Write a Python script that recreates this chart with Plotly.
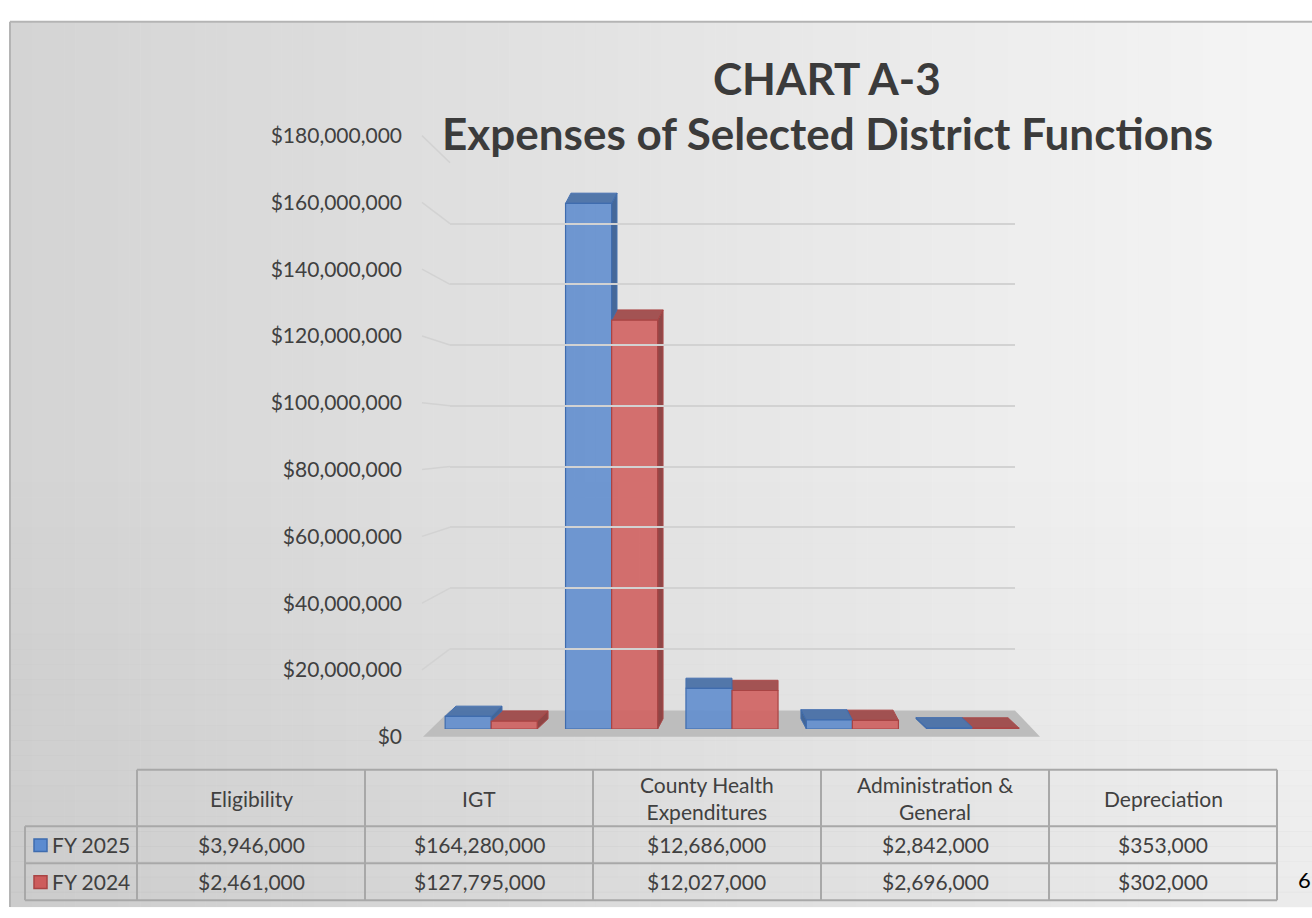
import plotly.graph_objects as go

# ---------------- data ----------------
categories = ["Eligibility", "IGT", "County Health Expenditures",
              "Administration & General", "Depreciation"]
table_headers = ["Eligibility", "IGT", "County Health<br>Expenditures",
                 "Administration &<br>General", "Depreciation"]
series_names = ["FY 2025", "FY 2024"]
fy2025 = [3946000, 164280000, 12686000, 2842000, 353000]
fy2024 = [2461000, 127795000, 12027000, 2696000, 302000]
tick_values = [0, 20000000, 40000000, 60000000, 80000000, 100000000,
               120000000, 140000000, 160000000, 180000000]
tick_labels = ["$" + f"{v:,}" for v in tick_values]
title_lines = ["CHART A-3", "Expenses of Selected District Functions"]
page_number = "6"

# ---------------- style ----------------
W, H = 1312, 918
FONT = "Lato"
TXT = "#404040"
front_cols = ["rgba(98,142,206,0.9)", "rgba(208,98,96,0.9)"]
edge_cols = ["#3f6cae", "#a94444"]
top_cols = ["#4b72a8", "#a04c4c"]
side_cols = ["#3d6296", "#8c3f3f"]
key_fill = ["#5b8bd0", "#cd5c5c"]

def px(x):
    return x / W

def py(y):
    return 1 - y / H

Y_MAX = 180000000
BAR_PX_PER_UNIT = (735 - 143) / Y_MAX
CAT_PX = 120.4
BARGAP = 0.235
DEPTH_DY = 10.5 / BAR_PX_PER_UNIT   # depth offset in data units
VP_CAT = 2.0                        # perspective centre (category index)
SKEW_PX = 5.4                       # horizontal depth shift per category

fig = go.Figure()

# bars (front faces)
for s, vals in enumerate([fy2025, fy2024]):
    fig.add_trace(go.Bar(
        x=list(range(len(categories))), y=vals, name=series_names[s],
        marker=dict(color=front_cols[s], line=dict(color=edge_cols[s], width=1.2)),
        xaxis="x", yaxis="y", showlegend=False,
        hovertext=categories, hoverinfo="text+y",
    ))

# dummy traces to create the label axis and the back-wall grid subplot
fig.add_trace(go.Scatter(x=[None], y=[None], xaxis="x", yaxis="y2",
                         showlegend=False, hoverinfo="skip"))
fig.add_trace(go.Scatter(x=[None], y=[None], xaxis="x3", yaxis="y3",
                         showlegend=False, hoverinfo="skip"))

shapes = []

# background gradient (paper)
n = 120
x_start, x_end = 10, W
for k in range(n):
    t = k / (n - 1)
    c = int(round(0xd4 + (0xf5 - 0xd4) * t))
    x0 = x_start + (x_end - x_start) * k / n
    x1 = x_start + (x_end - x_start) * (k + 1) / n + 0.6
    shapes.append(dict(type="rect", xref="paper", yref="paper",
                       x0=px(x0), x1=px(x1), y0=py(918), y1=py(8),
                       fillcolor=f"rgb({c},{c},{c})", line=dict(width=0),
                       layer="below"))
# subtle darkening toward the bottom
m = 30
for k in range(m):
    t = k / (m - 1)
    y0 = 450 + (918 - 450) * k / m
    y1 = 450 + (918 - 450) * (k + 1) / m + 0.6
    shapes.append(dict(type="rect", xref="paper", yref="paper",
                       x0=px(10), x1=px(W), y0=py(y1), y1=py(y0),
                       fillcolor=f"rgba(0,0,0,{0.035 * t:.4f})", line=dict(width=0),
                       layer="below"))
# frame border (top & left)
shapes.append(dict(type="line", xref="paper", yref="paper", x0=px(10), x1=px(W),
                   y0=py(8), y1=py(8), line=dict(color="#b4b4b4", width=2), layer="below"))
shapes.append(dict(type="line", xref="paper", yref="paper", x0=px(10), x1=px(10),
                   y0=py(8), y1=py(918), line=dict(color="#b4b4b4", width=2), layer="below"))

# floor
shapes.append(dict(type="path", xref="paper", yref="paper",
                   path=f"M {px(423)},{py(743)} L {px(1040)},{py(743)} L {px(1015)},{py(716)} L {px(450)},{py(716)} Z",
                   fillcolor="#bdbdbd", line=dict(width=0), layer="below"))

# side-wall slants connecting label positions to back-wall gridlines
for v in tick_values[1:]:
    y_lab = 743 - (743 - 125) * v / Y_MAX
    y_grid = 715 - (715 - 153) * v / Y_MAX
    shapes.append(dict(type="line", xref="paper", yref="paper",
                       x0=px(422), y0=py(y_lab), x1=px(450), y1=py(y_grid),
                       line=dict(color="#d2d2d2", width=1.5), layer="below"))

# 3D faces (top + side) for each bar, through the bar axis scales
w = (1 - BARGAP) / 2
def faces(i, s, v, other):
    ddx = -(i - VP_CAT) * SKEW_PX / CAT_PX
    xl = i - w + s * w
    xr = xl + w
    out = []
    if ddx > 0 and s == 1:
        out.append((f"M {xr},0 L {xr},{v} L {xr+ddx},{v+DEPTH_DY} L {xr+ddx},{DEPTH_DY} Z", side_cols[s]))
    if ddx > 0 and s == 0 and v > other:
        out.append((f"M {xr},{other} L {xr},{v} L {xr+ddx},{v+DEPTH_DY} L {xr+ddx},{other+DEPTH_DY} Z", side_cols[s]))
    if ddx < 0 and s == 0:
        out.append((f"M {xl},0 L {xl},{v} L {xl+ddx},{v+DEPTH_DY} L {xl+ddx},{DEPTH_DY} Z", side_cols[s]))
    out.append((f"M {xl},{v} L {xr},{v} L {xr+ddx},{v+DEPTH_DY} L {xl+ddx},{v+DEPTH_DY} Z", top_cols[s]))
    return out

for i in range(len(categories)):
    for s in [1, 0]:
        v = [fy2025, fy2024][s][i]
        other = [fy2025, fy2024][1 - s][i]
        for path, col in faces(i, s, v, other):
            shapes.append(dict(type="path", xref="x", yref="y", path=path,
                               fillcolor=col, opacity=0.95,
                               line=dict(color=edge_cols[s], width=1),
                               layer="between"))

# ---------------- data table ----------------
TL = "#a8a8a8"
col_x = [137, 365, 593, 821, 1049, 1277]
row_y = [777, 835, 873, 911]
shapes.append(dict(type="line", xref="paper", yref="paper", x0=px(137), x1=px(1277),
                   y0=py(777), y1=py(777), line=dict(color=TL, width=2)))
for yy in row_y[1:]:
    shapes.append(dict(type="line", xref="paper", yref="paper", x0=px(25), x1=px(1277),
                       y0=py(yy), y1=py(yy), line=dict(color=TL, width=2)))
shapes.append(dict(type="line", xref="paper", yref="paper", x0=px(25), x1=px(25),
                   y0=py(835), y1=py(911), line=dict(color=TL, width=2)))
for xx in col_x:
    shapes.append(dict(type="line", xref="paper", yref="paper", x0=px(xx), x1=px(xx),
                       y0=py(777), y1=py(911), line=dict(color=TL, width=2)))

annotations = []
for j, hdr in enumerate(table_headers):
    cx = (col_x[j] + col_x[j + 1]) / 2
    annotations.append(dict(x=px(cx), y=py(806), xref="paper", yref="paper",
                            text=hdr, showarrow=False, xanchor="center", yanchor="middle",
                            font=dict(family=FONT, size=21, color=TXT)))
for s, vals in enumerate([fy2025, fy2024]):
    cy = (row_y[s + 1] + row_y[s + 2]) / 2
    for j, v in enumerate(vals):
        cx = (col_x[j] + col_x[j + 1]) / 2
        annotations.append(dict(x=px(cx), y=py(cy), xref="paper", yref="paper",
                                text=f"${v:,.0f}", showarrow=False,
                                xanchor="center", yanchor="middle",
                                font=dict(family=FONT, size=21, color=TXT)))
    annotations.append(dict(x=px(50), y=py(cy), xref="paper", yref="paper",
                            text=series_names[s], showarrow=False,
                            xanchor="left", yanchor="middle",
                            font=dict(family=FONT, size=21, color=TXT)))
    shapes.append(dict(type="rect", xref="paper", yref="paper",
                       x0=px(34), x1=px(47), y0=py(cy + 7), y1=py(cy - 6),
                       fillcolor=key_fill[s], line=dict(color=edge_cols[s], width=1.5)))

# title
annotations.append(dict(x=px(827), y=py(66), xref="paper", yref="paper",
                        text=f"<b>{title_lines[0]}</b>", showarrow=False,
                        xanchor="center", yanchor="middle",
                        font=dict(family=FONT, size=44, color="#3b3b3b")))
annotations.append(dict(x=px(827), y=py(122), xref="paper", yref="paper",
                        text=f"<b>{title_lines[1]}</b>", showarrow=False,
                        xanchor="center", yanchor="middle",
                        font=dict(family=FONT, size=44, color="#3b3b3b")))
annotations.append(dict(x=px(1296), y=py(890), xref="paper", yref="paper",
                        text=page_number, showarrow=False,
                        xanchor="left", yanchor="middle",
                        font=dict(family=FONT, size=22, color="#000000")))

fig.update_layout(
    width=W, height=H,
    margin=dict(l=0, r=0, t=0, b=0),
    paper_bgcolor="white", plot_bgcolor="rgba(0,0,0,0)",
    barmode="group", bargap=BARGAP, bargroupgap=0,
    showlegend=False,
    xaxis=dict(domain=[px(431), px(1033)], range=[-0.5, 4.5], visible=False,
               fixedrange=True),
    yaxis=dict(domain=[py(735), py(143)], range=[0, Y_MAX], visible=False,
               fixedrange=True),
    yaxis2=dict(domain=[py(743), py(125)], range=[0, Y_MAX], anchor="free",
                position=px(402), tickvals=tick_values, ticktext=tick_labels,
                showgrid=False, zeroline=False, showline=False,
                ticks="", tickfont=dict(family=FONT, size=21, color=TXT)),
    xaxis3=dict(domain=[px(450), px(1015)], range=[0, 1], visible=False,
                anchor="y3"),
    yaxis3=dict(domain=[py(715), py(153)], range=[0, Y_MAX], anchor="x3",
                tickvals=tick_values, showticklabels=False, showgrid=True,
                gridcolor="#d2d2d2", gridwidth=1.5, zeroline=False, showline=False,
                ticks=""),
    shapes=shapes,
    annotations=annotations,
)

fig.write_html("out.html", config={"displayModeBar": False},
               post_script="document.body.style.margin='0';document.body.style.overflow='hidden';")
